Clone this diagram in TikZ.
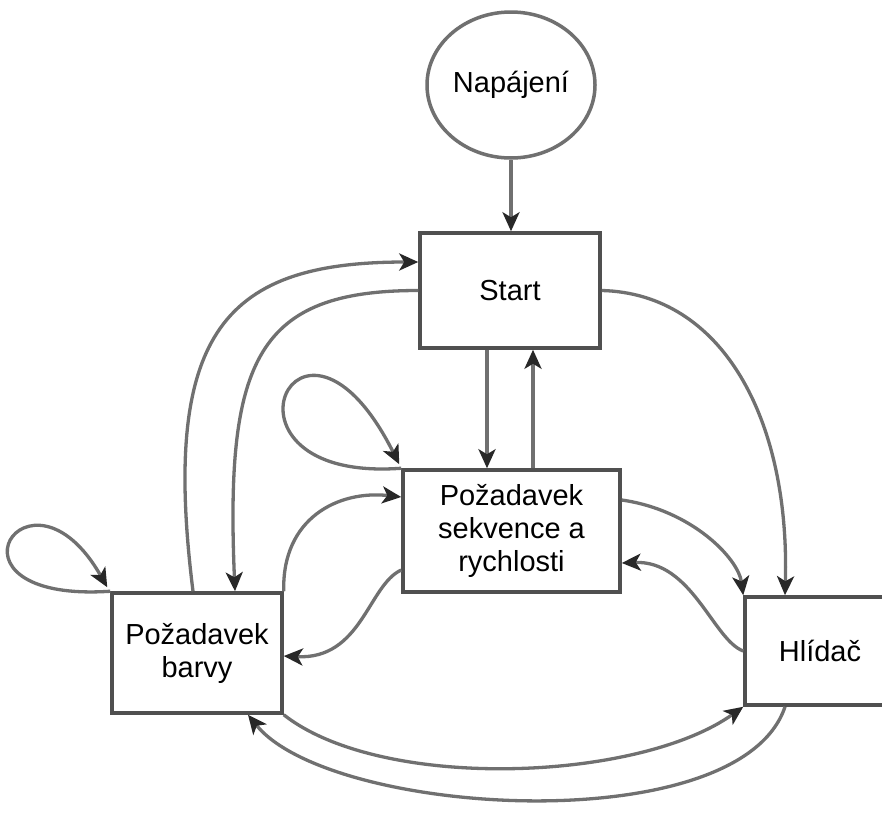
\documentclass[tikz,border=0pt]{standalone}
\usepackage{fontspec}
\setmainfont{Liberation Sans}
\usetikzlibrary{arrows.meta,shapes.geometric,calc}
\definecolor{linegray}{RGB}{112,112,112}
\definecolor{boxgray}{RGB}{80,80,80}
\definecolor{tipgray}{RGB}{40,40,40}
\begin{document}
\begin{tikzpicture}[x=1pt,y=-1pt,
  every node/.style={font=\fontsize{29}{33}\selectfont, text=black},
  box/.style={draw=boxgray, line width=3.5pt, rectangle, inner sep=0pt, align=center},
  conn/.style={draw=linegray, line width=3.3pt, -{Stealth[length=19pt,width=17pt,inset=5pt,color=tipgray]}}
]
\fill[white] (0,0) rectangle (882,814);
\useasboundingbox (0,0) rectangle (882,814);

\node[ellipse, draw=linegray, line width=3.5pt, minimum width=168pt, minimum height=146pt, inner sep=0pt] (nap) at (511,85) {Napájení};
\node[box, minimum width=180pt, minimum height=115pt] (start) at (510,290.5) {Start};
\node[box, minimum width=217pt, minimum height=122pt] (sek) at (511.5,531) {Požadavek\\sekvence a\\rychlosti};
\node[box, minimum width=170pt, minimum height=120pt] (barvy) at (197,653) {Požadavek\\barvy};
\node[box, minimum width=150pt, minimum height=108pt] (hlid) at (820,651) {Hlídač};

% straight connectors
\draw[conn] (nap.south) -- (nap.south |- start.north);
\draw[conn] ([xshift=-23pt]start.south) -- ([xshift=-24.5pt]sek.north);
\draw[conn] ([xshift=21.5pt]sek.north) -- ([xshift=23pt]start.south);

% self loops
\draw[conn] (sek.north west) .. controls +(-203,15) and +(-101,-201) .. ([xshift=-2pt,yshift=4pt]sek.north west);
\draw[conn] (barvy.north west) .. controls +(-182,12) and +(-79,-139) .. ([xshift=-3pt,yshift=4pt]barvy.north west);

% Start <-> Barvy
\draw[conn] (start.west) .. controls +(-160,0) and +(-10,-233) .. ([xshift=38pt]barvy.north);
\draw[conn] ([xshift=-4pt]barvy.north) .. controls +(-33,-263) and +(-190,0) .. ([yshift=28.5pt]start.west);

% Barvy <-> Sekvence
\draw[conn] (barvy.north east) .. controls +(-2,-73) and +(-63,-7) .. ([yshift=34pt]sek.west);
\draw[conn] ([yshift=-39pt]sek.west) .. controls +(-33,15) and +(78,4) .. ([yshift=-3pt]barvy.east);

% Start -> Hlidac
\draw[conn] (start.east) .. controls +(120,3) and +(5,-177) .. ([xshift=-35pt]hlid.north);

% Sekvence <-> Hlidac
\draw[conn] ([yshift=31pt]sek.east) .. controls +(70,10) and +(-5,-37) .. (hlid.north west);
\draw[conn] (hlid.west) .. controls +(-30,-11) and +(70,-3) .. ([yshift=-32pt]sek.east);

% Barvy <-> Hlidac (bottom)
\draw[conn] (barvy.south east) .. controls +(98,77) and +(-105,75) .. (hlid.south west);
\draw[conn] ([xshift=-35pt]hlid.south) .. controls +(-45,135) and +(82,102) .. ([xshift=51pt]barvy.south);
\end{tikzpicture}
\end{document}
